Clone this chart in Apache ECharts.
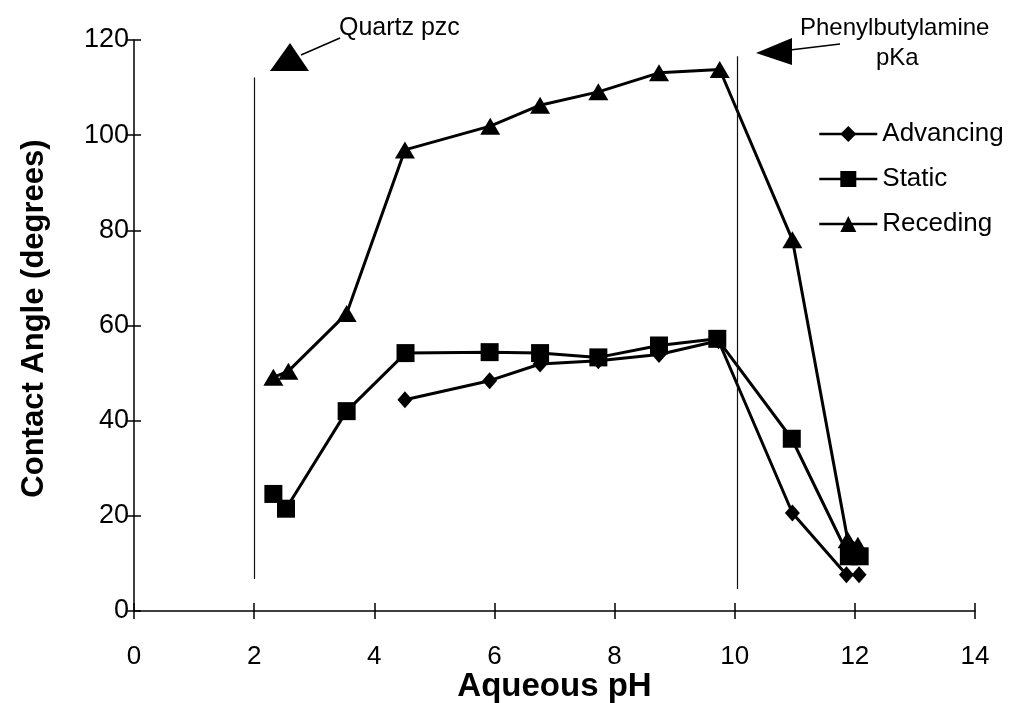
<!DOCTYPE html>
<html>
<head>
<meta charset="utf-8">
<script src="https://cdn.jsdelivr.net/npm/echarts@6/dist/echarts.min.js"></script>
<style>
  html, body { margin: 0; padding: 0; background: #fff; }
  #chart { width: 1020px; height: 703px; }
</style>
</head>
<body>
<div id="chart"></div>
<script>
// Contact angle vs aqueous pH for the three measurement modes
const advancingPH = [4.51, 5.92, 6.76, 7.73, 8.74, 9.73, 10.96, 11.86, 12.07];
const advancingAngle = [44.4, 48.4, 51.9, 52.6, 53.9, 56.8, 20.6, 7.6, 7.6];

const staticPH = [2.32, 2.53, 3.54, 4.52, 5.92, 6.76, 7.73, 8.74, 9.71, 10.95, 11.9, 12.08];
const staticAngle = [24.6, 21.5, 42.0, 54.2, 54.4, 54.2, 53.3, 55.8, 57.2, 36.2, 11.5, 11.5];

const recedingPH = [2.32, 2.57, 3.54, 4.51, 5.93, 6.76, 7.73, 8.74, 9.75, 10.96, 11.88, 12.05];
const recedingAngle = [49.1, 50.4, 62.5, 96.9, 101.9, 106.3, 109.1, 113.1, 113.8, 78.0, 15.0, 13.8];

// Reference pH values: quartz point of zero charge and amine pKa
const quartzPzc = 2;
const aminePKa = 10.05;

const xTicks = [0, 2, 4, 6, 8, 10, 12, 14];
const yTicks = [0, 20, 40, 60, 80, 100, 120];

const FONT = '"Liberation Sans", Arial, sans-serif';

function pairs(xs, ys) { return xs.map((x, i) => [x, ys[i]]); }

const chart = echarts.init(document.getElementById('chart'), null, { renderer: 'canvas' });

const lineBase = {
  type: 'line',
  lineStyle: { color: '#000', width: 3 },
  itemStyle: { color: '#000' },
  z: 3
};

const option = {
  backgroundColor: '#fff',
  animation: false,
  textStyle: { fontFamily: FONT, color: '#000' },
  grid: { left: 134, right: 45, top: 40, bottom: 92, containLabel: false, outerBoundsMode: 'none' },
  legend: {
    orient: 'vertical',
    left: 813,
    top: 116,
    itemWidth: 58,
    itemHeight: 20,
    itemGap: 19,
    lineStyle: { width: 2.6 },
    textStyle: { fontFamily: FONT, fontSize: 26, color: '#000' },
    data: ['Advancing', 'Static', 'Receding']
  },
  xAxis: [{
    type: 'value',
    min: xTicks[0], max: xTicks[xTicks.length - 1], interval: 2,
    name: 'Aqueous pH',
    nameLocation: 'middle',
    nameGap: 59,
    nameMoveOverlap: false,
    nameTextStyle: { fontFamily: FONT, fontSize: 33, fontWeight: 'bold', color: '#000' },
    axisLine: { lineStyle: { color: '#000', width: 1.5 } },
    axisTick: { show: true, length: 8, lineStyle: { color: '#000', width: 1.5 } },
    axisLabel: { fontFamily: FONT, fontSize: 26, color: '#000', margin: 33 },
    splitLine: { show: false }
  }, {
    // inner half of the crossing tick marks
    type: 'value', position: 'bottom',
    min: xTicks[0], max: xTicks[xTicks.length - 1], interval: 2,
    axisLine: { show: false },
    axisTick: { show: true, inside: true, length: 8, lineStyle: { color: '#000', width: 1.5 } },
    axisLabel: { show: false },
    splitLine: { show: false }
  }],
  yAxis: [{
    type: 'value',
    min: yTicks[0], max: yTicks[yTicks.length - 1], interval: 20,
    name: 'Contact Angle (degrees)',
    nameLocation: 'middle',
    nameGap: 84,
    nameMoveOverlap: false,
    nameTextStyle: { fontFamily: FONT, fontSize: 31, fontWeight: 'bold', color: '#000', padding: [0, 0, 0, 14] },
    axisLine: { show: true, lineStyle: { color: '#000', width: 1.5 } },
    axisTick: { show: true, length: 7, lineStyle: { color: '#000', width: 1.5 } },
    axisLabel: { fontFamily: FONT, fontSize: 27, color: '#000', margin: 5 },
    splitLine: { show: false }
  }, {
    type: 'value', position: 'left',
    min: yTicks[0], max: yTicks[yTicks.length - 1], interval: 20,
    axisLine: { show: false },
    axisTick: { show: true, inside: true, length: 7, lineStyle: { color: '#000', width: 1.5 } },
    axisLabel: { show: false },
    splitLine: { show: false }
  }],
  series: [
    Object.assign({}, lineBase, {
      name: 'Advancing',
      data: pairs(advancingPH, advancingAngle),
      symbol: 'diamond',
      symbolSize: [15, 17]
    }),
    Object.assign({}, lineBase, {
      name: 'Static',
      data: pairs(staticPH, staticAngle),
      symbol: 'rect',
      symbolSize: 18
    }),
    Object.assign({}, lineBase, {
      name: 'Receding',
      data: pairs(recedingPH, recedingAngle),
      symbol: 'triangle',
      symbolSize: [20, 17],
      markLine: {
        silent: true,
        symbol: ['none', 'none'],
        label: { show: false },
        lineStyle: { color: '#111', width: 1.2, type: 'solid' },
        data: [
          [{ coord: [quartzPzc, 6.7] }, { coord: [quartzPzc, 112.1] }],
          [{ coord: [aminePKa, 4.6] }, { coord: [aminePKa, 116.6] }]
        ]
      }
    })
  ],
  graphic: [
    // Quartz pzc callout
    { type: 'polygon', shape: { points: [[290, 43], [270, 71], [309, 71]] }, style: { fill: '#000' } },
    { type: 'line', shape: { x1: 301, y1: 55, x2: 340, y2: 38 }, style: { stroke: '#000', lineWidth: 1.5 } },
    { type: 'text', left: 339, top: 16,
      style: { text: 'Quartz pzc', font: '25px ' + FONT, fill: '#000' } },
    // Phenylbutylamine pKa callout
    { type: 'polygon', shape: { points: [[756, 53], [792, 38], [792, 65]] }, style: { fill: '#000' } },
    { type: 'line', shape: { x1: 790, y1: 50, x2: 840, y2: 44 }, style: { stroke: '#000', lineWidth: 1.5 } },
    { type: 'text', left: 800, top: 16,
      style: { text: 'Phenylbutylamine', font: '24px ' + FONT, fill: '#000' } },
    { type: 'text', left: 876, top: 46,
      style: { text: 'pKa', font: '24px ' + FONT, fill: '#000' } }
  ]
};

chart.setOption(option);
</script>
</body>
</html>
